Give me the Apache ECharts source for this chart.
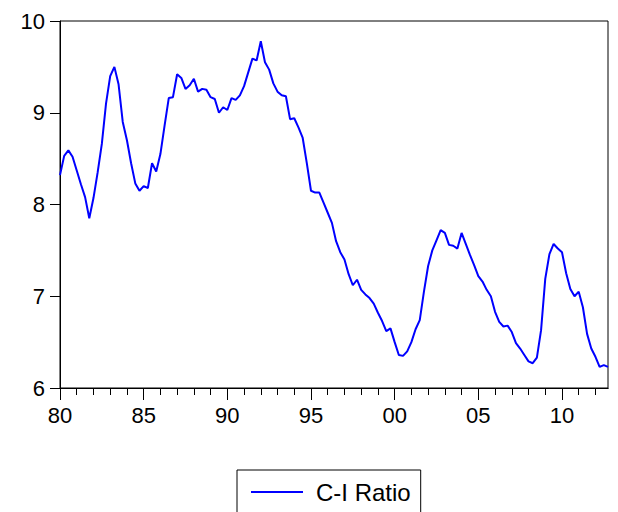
<!DOCTYPE html>
<html>
<head>
<meta charset="utf-8">
<script src="https://cdn.jsdelivr.net/npm/echarts@6/dist/echarts.min.js"></script>
<style>
  html, body { margin: 0; padding: 0; background: #ffffff; }
  #chart { width: 618px; height: 512px; }
</style>
</head>
<body>
<div id="chart"></div>
<script>
(function() {
  // quarterly data, 1980Q1 .. 2012Q4
  var startYear = 1980;
  var endYear = 2012;
  var seriesName = 'C-I Ratio';
  var ciRatio = [
    8.32, 8.53, 8.59, 8.52, 8.37, 8.22, 8.08, 7.85, 8.07, 8.35,
    8.66, 9.10, 9.40, 9.50, 9.31, 8.90, 8.70, 8.45, 8.23, 8.15,
    8.20, 8.18, 8.45, 8.36, 8.55, 8.86, 9.16, 9.17, 9.42, 9.38,
    9.26, 9.30, 9.37, 9.23, 9.26, 9.25, 9.17, 9.15, 9.00, 9.06,
    9.03, 9.16, 9.14, 9.19, 9.29, 9.44, 9.59, 9.57, 9.78, 9.55,
    9.47, 9.32, 9.23, 9.19, 9.18, 8.93, 8.94, 8.84, 8.73, 8.45,
    8.15, 8.13, 8.13, 8.02, 7.91, 7.80, 7.60, 7.48, 7.40, 7.24,
    7.12, 7.18, 7.07, 7.02, 6.98, 6.92, 6.82, 6.73, 6.62, 6.65,
    6.50, 6.36, 6.35, 6.40, 6.50, 6.64, 6.74, 7.05, 7.33, 7.50,
    7.61, 7.72, 7.69, 7.56, 7.55, 7.52, 7.69, 7.57, 7.45, 7.34,
    7.22, 7.16, 7.07, 7.00, 6.83, 6.72, 6.67, 6.68, 6.61, 6.49,
    6.43, 6.36, 6.29, 6.27, 6.33, 6.63, 7.19, 7.46, 7.57, 7.52,
    7.48, 7.25, 7.08, 7.00, 7.05, 6.88, 6.59, 6.43, 6.34, 6.23,
    6.25, 6.23
  ];
  var xTickLabels = ['80', '85', '90', '95', '00', '05', '10'];
  var yMin = 6, yMax = 10, yStep = 1;

  var quarters = [];
  for (var y = startYear; y <= endYear; y++) {
    for (var q = 1; q <= 4; q++) quarters.push(y + 'Q' + q);
  }

  var font = 'Liberation Sans, Arial, sans-serif';
  var black = '#000000';
  var blue = '#0000ff';

  var chart = echarts.init(document.getElementById('chart'), null, { renderer: 'svg' });
  chart.setOption({
    animation: false,
    grid: {
      left: 60, right: 10, top: 21, bottom: 124,
      show: true, borderColor: black, borderWidth: 1, backgroundColor: '#ffffff'
    },
    legend: {
      left: 237, top: 470,
      padding: [10, 10, 10, 14],
      borderColor: black, borderWidth: 1, borderRadius: 0,
      itemWidth: 52, itemHeight: 2,
      textStyle: { fontFamily: font, fontSize: 24, color: black, padding: [0, 0, 0, 8] },
      data: [{ name: seriesName, icon: 'rect', itemStyle: { color: blue } }]
    },
    xAxis: [{
      type: 'category',
      data: quarters,
      boundaryGap: false,
      axisLine: { lineStyle: { color: black, width: 1 } },
      axisTick: {
        interval: function(i) { return i % 4 === 0; },
        length: 7, lineStyle: { color: black }
      },
      axisLabel: { show: false },
      splitLine: { show: false }
    }, {
      type: 'category',
      data: quarters,
      boundaryGap: false,
      position: 'bottom',
      axisLine: { lineStyle: { color: black, width: 1 } },
      axisTick: {
        interval: function(i) { return i % 20 === 0; },
        length: 12, lineStyle: { color: black }
      },
      axisLabel: {
        interval: function(i) { return i % 20 === 0; },
        formatter: function(v, i) { return xTickLabels[i / 20]; },
        fontFamily: font, fontSize: 22, color: black, margin: 16
      },
      splitLine: { show: false }
    }],
    yAxis: {
      type: 'value',
      min: yMin, max: yMax, interval: yStep,
      axisLine: { show: true, lineStyle: { color: black } },
      axisTick: { show: true, length: 10, lineStyle: { color: black } },
      axisLabel: { fontFamily: font, fontSize: 22, color: black, margin: 15 },
      splitLine: { show: false }
    },
    series: [{
      name: seriesName,
      type: 'line',
      xAxisIndex: 0,
      data: ciRatio,
      symbol: 'none',
      lineStyle: { color: blue, width: 2 },
      itemStyle: { color: blue }
    }]
  });
})();
</script>
</body>
</html>
